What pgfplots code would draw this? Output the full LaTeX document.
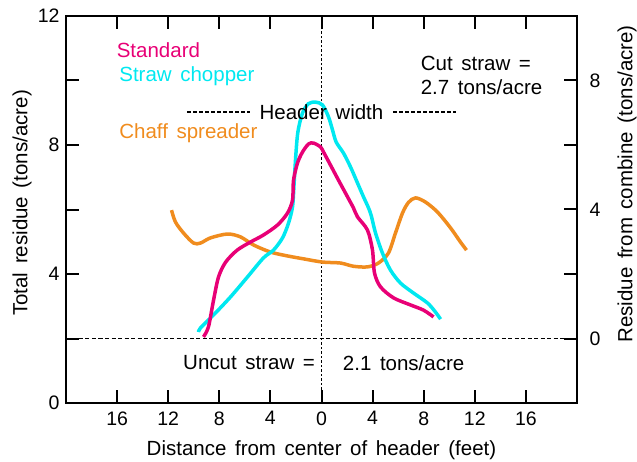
\documentclass[border=0pt]{standalone}
\usepackage{pgfplots}
\pgfplotsset{compat=1.18}
\usepackage{fontspec}
\setmainfont{Liberation Sans}
\definecolor{stdc}{RGB}{232,0,118}
\definecolor{chop}{RGB}{0,232,240}
\definecolor{chaff}{RGB}{240,140,30}
\newcommand{\lbl}{\fontsize{20.5}{23}\selectfont\spaceskip=0.42em plus 0.1em}
\begin{document}
\begin{tikzpicture}
\begin{axis}[
  name=main,
  scale only axis, width=511pt, height=387pt,
  xmin=-20, xmax=20, ymin=0, ymax=12,
  axis line style={line width=2pt},
  tick style={line width=2pt, black},
  tick align=inside, major tick length=13pt,
  xtick={-16,-12,...,16}, xticklabels={16,12,8,4,0,4,8,12,16},
  xtick pos=both, xticklabel pos=lower,
  ytick={0,2,...,12}, yticklabels={0,,4,,8,,12}, ytick pos=left,
  /pgf/number format/assume math mode=true,
  ticklabel style={font=\fontsize{19.5}{22}\selectfont},
  xticklabel style={yshift=-5pt},
  yticklabel style={xshift=-3pt},
  xlabel={Distance from center of header (feet)},
  ylabel={Total residue (tons/acre)},
  label style={font=\lbl},
  xlabel style={at={(axis description cs:0.5,-0.1214)}, anchor=center},
  ylabel style={at={(axis description cs:-0.086,0.517)}, anchor=center},
  clip=false,
]
% reference lines
\addplot[black, line width=1.3pt, dash pattern=on 2.5pt off 2pt] coordinates {(0,0) (0,12)};
\addplot[black, line width=1pt, dash pattern=on 4pt off 2.5pt] coordinates {(-20,2) (20,2)};
\addplot[black, line width=1.5pt, dash pattern=on 4pt off 2pt] coordinates {(-10.5,9.03) (-5.6,9.03)};
\addplot[black, line width=1.5pt, dash pattern=on 4pt off 2pt] coordinates {(5.6,9.03) (10.5,9.03)};

% Chaff spreader
\addplot[chaff, line width=3.5pt, smooth, tension=0.5] coordinates {
(-11.74,5.98) (-11.43,5.61) (-10.8,5.27) (-10.02,4.96) (-9.47,4.96) (-8.69,5.12)
(-7.36,5.24) (-6.34,5.15) (-5.32,4.90) (-3.99,4.68) (-2.66,4.56) (-1.41,4.47)
(0.08,4.37) (1.49,4.34) (2.5,4.24) (3.6,4.22) (4.46,4.34) (5.24,4.65) (5.79,5.27)
(6.34,5.89) (6.81,6.22) (7.36,6.36) (8.14,6.23) (9.08,5.92) (10.1,5.43) (10.88,4.99) (11.35,4.74)};

% Straw chopper
\addplot[chop, line width=3.5pt, smooth, tension=0.5] coordinates {
(-9.63,2.20) (-9.47,2.33) (-8.45,2.73) (-7.12,3.29) (-5.79,3.91) (-4.54,4.50)
(-3.76,4.74) (-3.05,5.12) (-2.58,5.58) (-2.27,6.08) (-2.16,6.70) (-2.02,7.63)
(-1.85,8.40) (-1.49,8.99) (-1.02,9.28) (-0.47,9.33) (0.08,9.24) (0.55,8.87)
(0.86,8.47) (1.15,8.09) (1.72,7.75) (2.27,7.32) (2.82,6.82) (3.29,6.39) (3.68,6.05)
(3.9,5.80) (4.23,5.27) (4.77,4.65) (5.4,4.12) (6.18,3.72) (7.2,3.41) (8.3,3.10)
(8.92,2.82) (9.32,2.60)};

% Standard
\addplot[stdc, line width=3.5pt, smooth, tension=0.5] coordinates {
(-9.24,2.05) (-8.85,2.36) (-8.45,3.19) (-8.06,3.91) (-7.5,4.37) (-6.6,4.74)
(-5.56,4.99) (-4.54,5.21) (-3.44,5.52) (-2.66,5.89) (-2.27,6.29) (-2.19,6.91)
(-1.88,7.44) (-1.49,7.78) (-1.02,8.03) (-0.63,8.06) (-0.08,7.94) (0.16,7.78)
(0.7,7.38) (1.33,6.91) (2.04,6.39) (2.5,6.05) (2.82,5.77) (3.6,5.36) (3.99,4.74)
(4.15,4.03) (4.62,3.60) (5.64,3.26) (6.97,3.04) (7.98,2.88) (8.77,2.67)};

% texts
\node[anchor=west, text=stdc, font=\lbl] at (axis cs:-16.3,10.95) {Standard};
\node[anchor=west, text=chop, font=\lbl] at (axis cs:-16.1,10.14) {Straw chopper};
\node[anchor=west, text=chaff, font=\lbl] at (axis cs:-16.1,8.37) {Chaff spreader};
\node[font=\lbl, inner sep=1pt] at (axis cs:0,9.03) {Header width};
\node[anchor=west, font=\lbl] at (axis cs:7.5,10.54) {Cut straw =};
\node[anchor=west, font=\lbl] at (axis cs:7.5,9.80) {2.7 tons/acre};
\node[anchor=west, font=\lbl] at (axis cs:-11.1,1.24) {Uncut straw =};
\node[anchor=west, font=\lbl] at (axis cs:1.4,1.24) {2.1 tons/acre};
\end{axis}
\begin{axis}[
  scale only axis, width=511pt, height=387pt,
  xmin=-20, xmax=20, ymin=-2, ymax=10,
  axis x line=none, axis y line*=right,
  axis line style={draw=none},
  tick style={line width=2pt, black},
  tick align=inside, major tick length=13pt,
  ytick={0,2,...,8}, yticklabels={0,,4,,8},
  /pgf/number format/assume math mode=true,
  ticklabel style={font=\fontsize{19.5}{22}\selectfont},
  yticklabel style={xshift=9pt},
  ylabel={Residue from combine (tons/acre)},
  label style={font=\lbl},
  ylabel style={at={(axis description cs:1.0978,0.566)}, anchor=center},
]
\end{axis}
\pgfresetboundingbox
\path ([shift={(-66pt,-58pt)}]main.south west) rectangle ([shift={(60pt,16pt)}]main.north east);
\end{tikzpicture}
\end{document}
